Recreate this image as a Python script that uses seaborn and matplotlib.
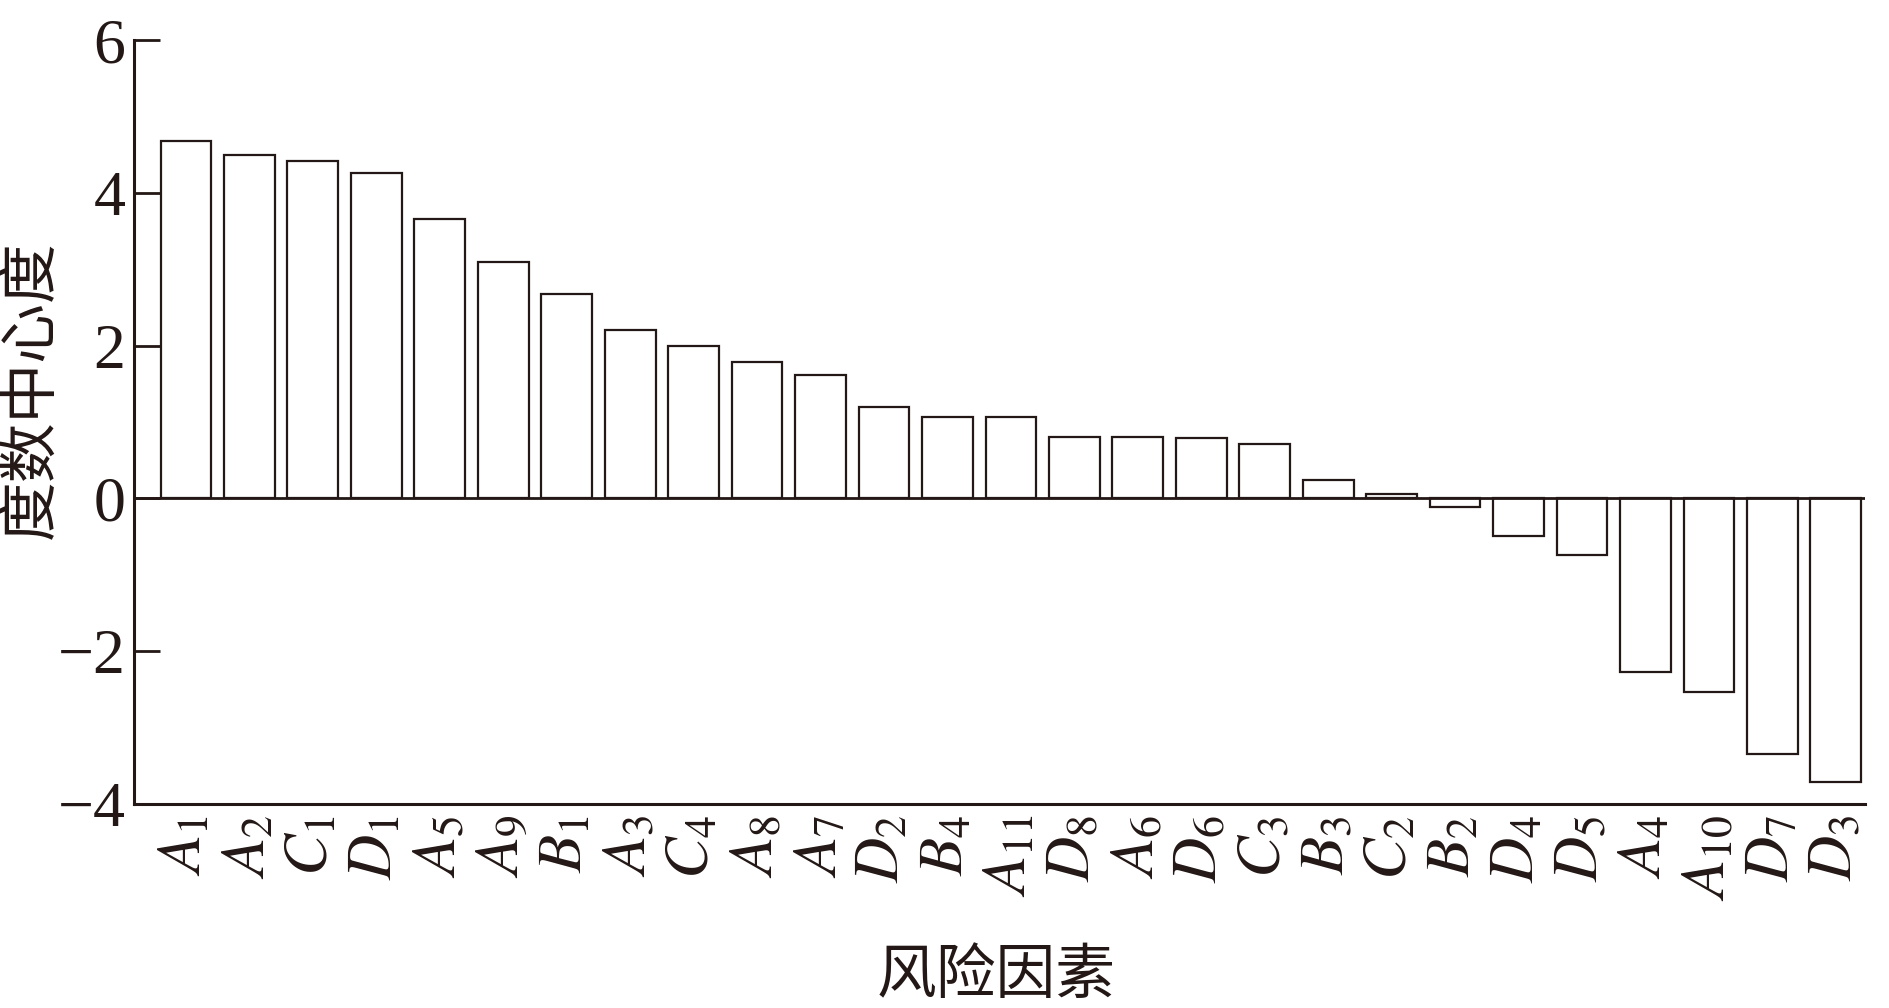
import matplotlib
matplotlib.use("Agg")
import matplotlib.pyplot as plt
import seaborn as sns
import pandas as pd

letters = ["A", "A", "C", "D", "A", "A", "B", "A", "C", "A", "A", "D", "B", "A",
           "D", "A", "D", "C", "B", "C", "B", "D", "D", "A", "A", "D", "D"]
subs = ["1", "2", "1", "1", "5", "9", "1", "3", "4", "8", "7", "2", "4", "11",
        "8", "6", "6", "3", "3", "2", "2", "4", "5", "4", "10", "7", "3"]
values = [4.68, 4.50, 4.42, 4.26, 3.66, 3.09, 2.68, 2.21, 1.99, 1.78, 1.62, 1.20, 1.07, 1.06,
          0.80, 0.80, 0.79, 0.71, 0.24, 0.06, -0.11, -0.49, -0.74, -2.27, -2.54, -3.34, -3.71]
yticks = [-4, -2, 0, 2, 4, 6]
xlabel = "风险因素"
ylabel = "度数中心度"

names = [f"{l}{s}" for l, s in zip(letters, subs)]
tick_texts = [rf"$\mathit{{{l}}}_{{{s}}}$" for l, s in zip(letters, subs)]
df = pd.DataFrame({"name": names, "value": values})

sns.set_style("ticks")
plt.rcParams["font.family"] = ["Liberation Serif", "Noto Sans CJK SC"]
plt.rcParams["mathtext.fontset"] = "stix"
ink = "#231815"

fig = plt.figure(figsize=(18.89, 10.08), dpi=100)
ax = fig.add_axes([0.0709, 0.2024, 0.9164, 0.7579])

sns.barplot(data=df, x="name", y="value", order=names, color="white",
            edgecolor=ink, linewidth=1.6, width=0.8, ax=ax)

ax.axhline(0, color=ink, linewidth=2.0, zorder=3)
ax.set_xlim(-0.82, 26.46)
ax.set_ylim(-4, 6)
ax.set_yticks(yticks)
ax.set_yticklabels([f"{v}".replace("-", "\u2212") for v in yticks], fontsize=46, color=ink)
ax.set_xticks(range(len(names)))
ax.set_xticklabels(tick_texts, rotation=90, fontsize=45, color=ink)
ax.tick_params(axis="x", length=0, pad=8)
ax.tick_params(axis="y", direction="in", length=19, width=2.0, color=ink, pad=6)

for s in ["top", "right"]:
    ax.spines[s].set_visible(False)
for s in ["left", "bottom"]:
    ax.spines[s].set_linewidth(2.2)
    ax.spines[s].set_color(ink)

ax.set_xlabel(xlabel, fontsize=43, family=["Noto Sans CJK SC"], color=ink)
ax.set_ylabel(ylabel, fontsize=43, family=["Noto Sans CJK SC"], color=ink)
ax.xaxis.set_label_coords(0.498, -0.186)
ax.yaxis.set_label_coords(-0.0416, 0.543)

fig.savefig("out.png", dpi=100, facecolor="white")
